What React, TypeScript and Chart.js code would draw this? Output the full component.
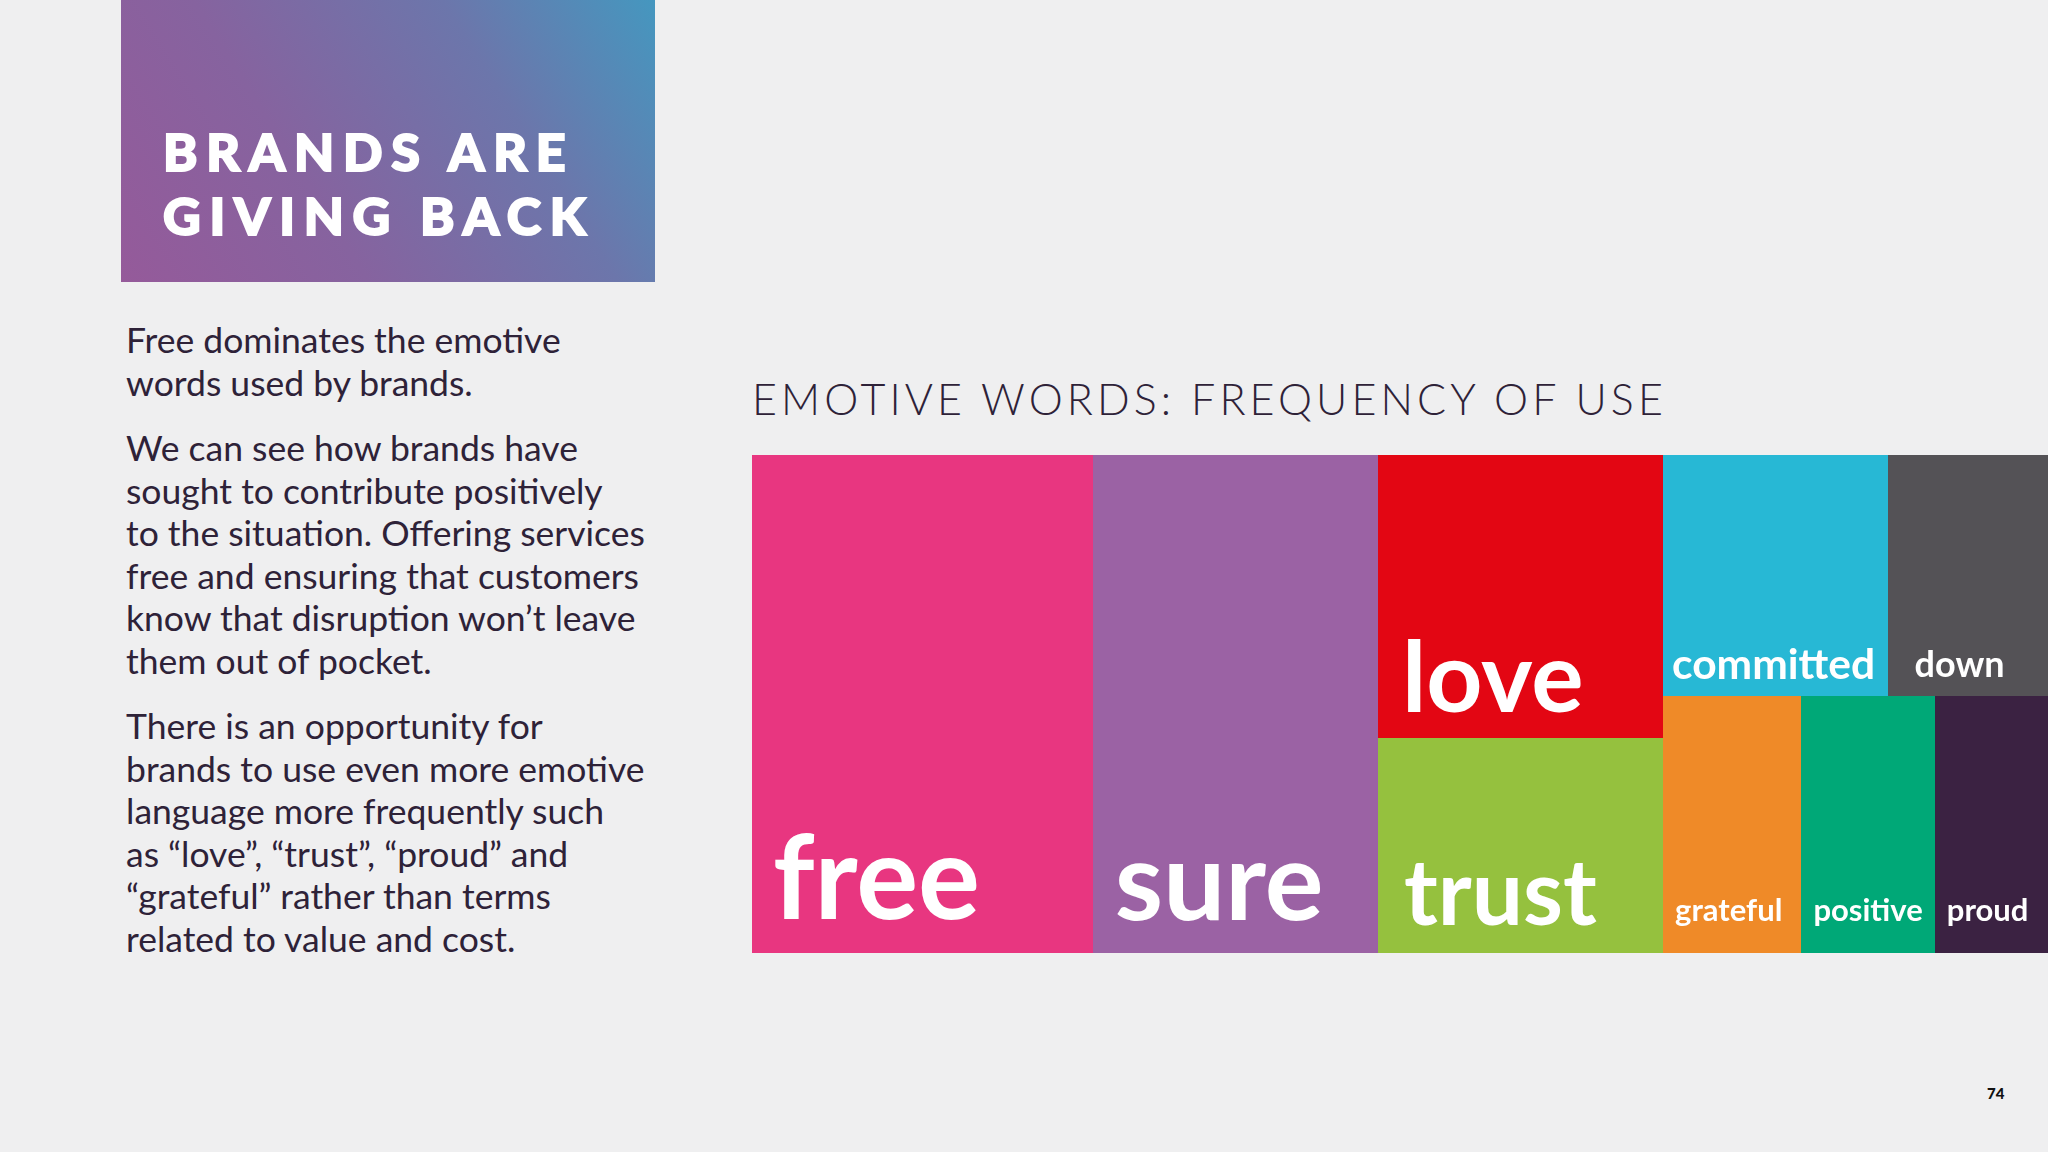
import React, { useEffect, useRef } from "react";
import { Chart, registerables } from "chart.js";

Chart.register(...registerables);

// ---------- data ----------
const WORDS = ["free", "sure", "love", "trust", "committed", "down", "grateful", "positive", "proud"];
// relative frequency of use (% of emotive-word mentions)
const FREQUENCY = [26.3, 22.0, 12.5, 9.5, 8.4, 6.0, 5.5, 5.3, 4.5];
const COLOURS = ["#e83680", "#9b62a4", "#e30613", "#95c13e", "#27b8d5", "#545256", "#ef8a28", "#00a877", "#3b2242"];

const TITLE = "EMOTIVE WORDS: FREQUENCY OF USE";
const HEADLINE = ["BRANDS ARE", "GIVING BACK"];
const PARAGRAPHS = [
  ["Free dominates the emotive", "words used by brands."],
  [
    "We can see how brands have",
    "sought to contribute positively",
    "to the situation. Offering services",
    "free and ensuring that customers",
    "know that disruption won\u2019t leave",
    "them out of pocket.",
  ],
  [
    "There is an opportunity for",
    "brands to use even more emotive",
    "language more frequently such",
    "as \u201clove\u201d, \u201ctrust\u201d, \u201cproud\u201d and",
    "\u201cgrateful\u201d rather than terms",
    "related to value and cost.",
  ],
];
const PAGE_NUMBER = "74";

// ---------- styles ----------
const LABEL_STYLE: Record<string, { size: number; padX: number; padBottom: number }> = {
  free: { size: 116, padX: 21, padBottom: 34 },
  sure: { size: 110, padX: 22, padBottom: 33 },
  love: { size: 98, padX: 24, padBottom: 26 },
  trust: { size: 91, padX: 26, padBottom: 28 },
  committed: { size: 42.5, padX: 9, padBottom: 17 },
  down: { size: 36, padX: 27, padBottom: 19 },
  grateful: { size: 31, padX: 12, padBottom: 32 },
  positive: { size: 31, padX: 12, padBottom: 32 },
  proud: { size: 31, padX: 12, padBottom: 32 },
};
const TEXT_COLOUR = "#2e2238";
const BG = "#efeff0";

type Rect = { x: number; y: number; w: number; h: number };

// squarified treemap (never leaves a single orphan cell at the end)
function squarify(values: number[], area: Rect): Rect[] {
  const total = values.reduce((a, b) => a + b, 0);
  const k = (area.w * area.h) / total;
  const areas = values.map((v) => v * k);
  const out: Rect[] = [];
  let r = { ...area };
  let i = 0;
  const n = areas.length;
  while (i < n) {
    const side = Math.min(r.w, r.h);
    const worst = (row: number[]) => {
      const s = row.reduce((a, b) => a + b, 0);
      const t = s / side;
      return Math.max(...row.map((a) => Math.max(a / t / t, t / (a / t))));
    };
    let row = [areas[i]];
    let j = i + 1;
    while (j < n) {
      const cand = [...row, areas[j]];
      if (worst(cand) <= worst(row) || j === n - 1) {
        row = cand;
        j++;
      } else break;
    }
    const s = row.reduce((a, b) => a + b, 0);
    if (r.w >= r.h) {
      const t = s / r.h;
      let y = r.y;
      row.forEach((a) => {
        const h = a / t;
        out.push({ x: r.x, y, w: t, h });
        y += h;
      });
      r = { x: r.x + t, y: r.y, w: r.w - t, h: r.h };
    } else {
      const t = s / r.w;
      let x = r.x;
      row.forEach((a) => {
        const w = a / t;
        out.push({ x, y: r.y, w, h: t });
        x += w;
      });
      r = { x: r.x, y: r.y + t, w: r.w, h: r.h - t };
    }
    i = j;
  }
  return out;
}

const treemapPlugin = {
  id: "treemapCells",
  afterDatasetsDraw(chart: any) {
    const ctx = chart.ctx as CanvasRenderingContext2D;
    const xs = chart.scales.x;
    const ys = chart.scales.y;
    const left = xs.getPixelForValue(0);
    const right = xs.getPixelForValue(100);
    const top = ys.getPixelForValue(0);
    const bottom = ys.getPixelForValue(100);
    const ds = chart.data.datasets[0];
    const values: number[] = ds.data as number[];
    const labels: string[] = chart.data.labels as string[];
    const colours: string[] = ds.backgroundColor as string[];
    const cells = squarify(values, { x: left, y: top, w: right - left, h: bottom - top });
    ctx.save();
    cells.forEach((c, idx) => {
      const x0 = Math.round(c.x);
      const y0 = Math.round(c.y);
      const x1 = Math.round(c.x + c.w);
      const y1 = Math.round(c.y + c.h);
      ctx.fillStyle = colours[idx];
      ctx.fillRect(x0, y0, x1 - x0, y1 - y0);
    });
    cells.forEach((c, idx) => {
      const word = labels[idx];
      const st = LABEL_STYLE[word];
      ctx.fillStyle = "#ffffff";
      ctx.font = `700 ${st.size}px Lato`;
      ctx.textAlign = "left";
      ctx.textBaseline = "alphabetic";
      ctx.fillText(word, c.x + st.padX, c.y + c.h - st.padBottom);
    });
    ctx.restore();
  },
};

function TreemapChart() {
  const ref = useRef<HTMLCanvasElement>(null);
  useEffect(() => {
    if (!ref.current) return;
    const chart = new Chart(ref.current, {
      type: "scatter",
      data: {
        labels: WORDS,
        datasets: [
          {
            label: TITLE,
            data: FREQUENCY as any,
            backgroundColor: COLOURS as any,
            pointRadius: 0,
            showLine: false,
          } as any,
        ],
      },
      options: {
        animation: false,
        responsive: false,
        events: [],
        layout: { padding: 0 },
        plugins: { legend: { display: false }, tooltip: { enabled: false }, title: { display: false } },
        scales: {
          x: { type: "linear", min: 0, max: 100, display: false },
          y: { type: "linear", min: 0, max: 100, display: false, reverse: true },
        },
      },
      plugins: [treemapPlugin],
    });
    return () => chart.destroy();
  }, []);
  return <canvas ref={ref} width={1296} height={498} style={{ display: "block" }} />;
}

// baseline -> top for a Lato line box
const topFor = (baseline: number, size: number, lh: number) => baseline - ((lh - 1.2 * size) / 2 + 0.987 * size);

export default function App() {
  const bodySize = 35.5;
  const bodyLH = 42.5;
  const paraBaselines = [354, 462, 740];
  return (
    <div
      style={{
        position: "absolute",
        left: 0,
        top: 0,
        width: 2048,
        height: 1152,
        background: BG,
        overflow: "hidden",
        fontFamily: "Lato, sans-serif",
        color: TEXT_COLOUR,
      }}
    >
      <div
        style={{
          position: "absolute",
          left: 121,
          top: 0,
          width: 534,
          height: 282,
          background: "linear-gradient(58deg, #955a9a 0%, #86639f 35%, #6c76ab 70%, #4597bf 100%)",
        }}
      />
      <div
        style={{
          position: "absolute",
          left: 163,
          top: topFor(171, 52, 64),
          fontSize: 52,
          lineHeight: "64px",
          fontWeight: 900,
          letterSpacing: "0.168em",
          color: "#ffffff",
          WebkitTextStroke: "2px #ffffff",
          whiteSpace: "nowrap",
        }}
      >
        {HEADLINE.map((l, i) => (
          <div key={i}>{l}</div>
        ))}
      </div>
      {PARAGRAPHS.map((p, pi) => (
        <div
          key={pi}
          style={{
            position: "absolute",
            left: 126,
            top: topFor(paraBaselines[pi], bodySize, bodyLH),
            fontSize: bodySize,
            lineHeight: `${bodyLH}px`,
            fontWeight: 400,
            whiteSpace: "nowrap",
          }}
        >
          {p.map((l, i) => (
            <div key={i}>{l}</div>
          ))}
        </div>
      ))}
      <div
        style={{
          position: "absolute",
          left: 752,
          top: topFor(416, 43, 50),
          fontSize: 43,
          lineHeight: "50px",
          fontWeight: 300,
          letterSpacing: "4.1px",
          whiteSpace: "nowrap",
        }}
      >
        {TITLE}
      </div>
      <div style={{ position: "absolute", left: 752, top: 455, width: 1296, height: 498 }}>
        <TreemapChart />
      </div>
      <div
        style={{
          position: "absolute",
          left: 1987,
          top: topFor(1099, 15, 18),
          fontSize: 15,
          lineHeight: "18px",
          fontWeight: 900,
          color: "#111",
        }}
      >
        {PAGE_NUMBER}
      </div>
    </div>
  );
}
